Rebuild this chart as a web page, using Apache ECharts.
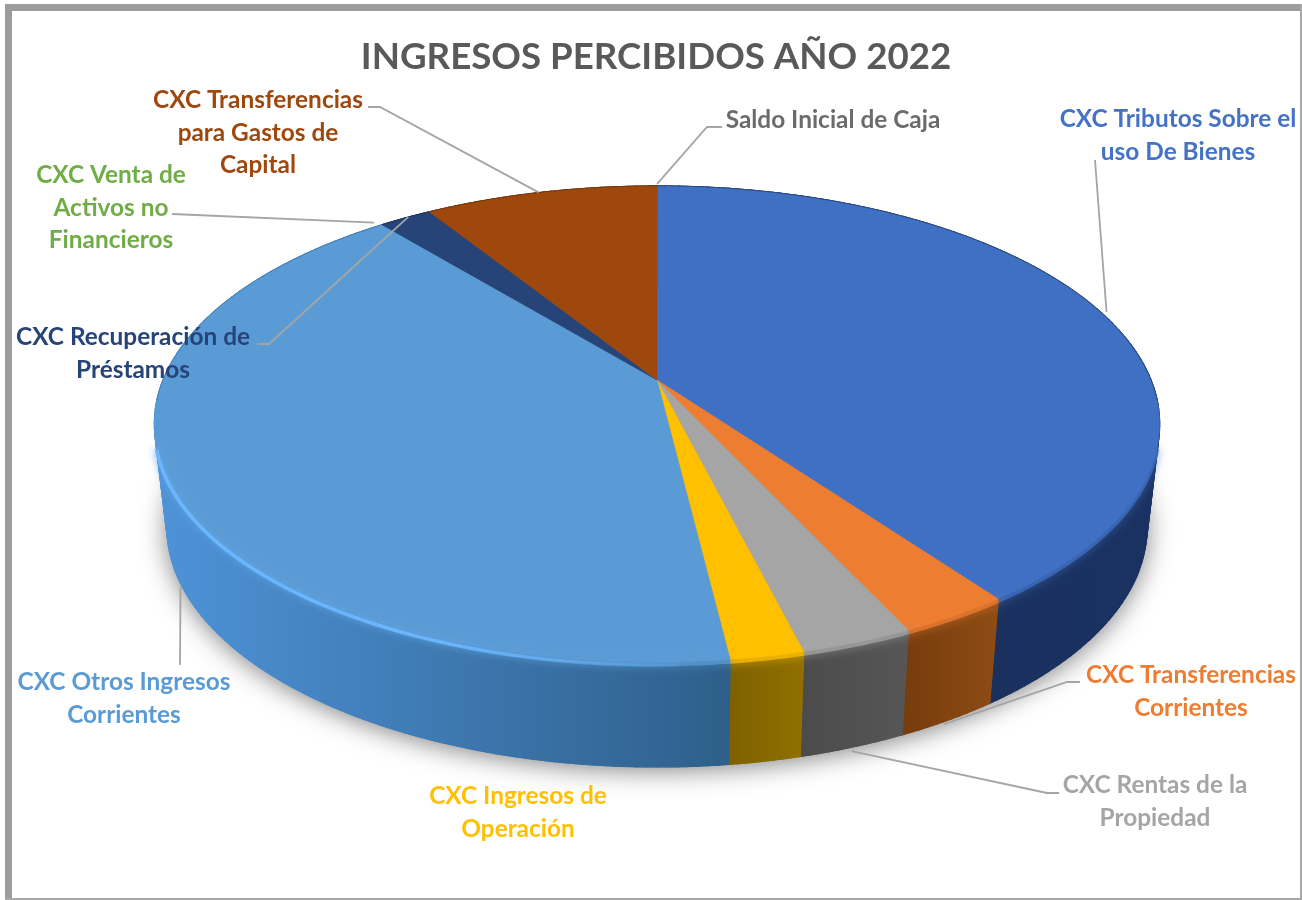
<!DOCTYPE html>
<html><head><meta charset="utf-8">
<style>html,body{margin:0;padding:0;background:#fff}#c{width:1302px;height:900px}</style>
<script src="https://cdn.jsdelivr.net/npm/echarts@6/dist/echarts.min.js"></script>
</head><body><div id="c"></div>
<script>
// ---- data (estimated shares, %) clockwise from 12 o'clock
const categories = ['Saldo Inicial de Caja','CXC Tributos Sobre el uso De Bienes','CXC Transferencias Corrientes','CXC Rentas de la Propiedad','CXC Ingresos de Operación','CXC Otros Ingresos Corrientes','CXC Venta de Activos no Financieros','CXC Recuperación de Préstamos','CXC Transferencias para Gastos de Capital'];
const values = [0.01, 40.0, 3.03, 3.04, 1.99, 40.95, 0.01, 2.02, 8.95];
const chartTitle = 'INGRESOS PERCIBIDOS AÑO 2022';

// ---- styles
const topColors  = ['#636363','#4070C4','#ED7D31','#A5A5A5','#FFC000','#5B9BD5','#70AD47','#264478','#9E480E'];
const wallStart  = ['#3a3a3a','#1A3262','#8E4C14','#565656','#917000','#4E93D8','#3d6b28','#16294a','#5c2a08'];
const wallEnd    = ['#3a3a3a','#1A2F58','#763C0C','#4B4B4B','#7E6000','#2E5F8A','#3d6b28','#16294a','#5c2a08'];
const labelLayout = [
  {lines:['Saldo Inicial de Caja'], x:833, y:120.5, color:'#6B6B6B', rim:'top', d:[0,-2], via:[[722,127],[707,127]]},
  {lines:['CXC Tributos Sobre el','uso De Bienes'], x:1178, y:119.5, color:'#4472C4', rim:'top', d:[5,-1], via:[[1095,160]]},
  {lines:['CXC Transferencias','Corrientes'], x:1191, y:675.5, color:'#ED7D31', rim:'bottom', d:[-4,4], via:[[1080,682],[1067,682]]},
  {lines:['CXC Rentas de la','Propiedad'], x:1155, y:785.5, color:'#A5A5A5', rim:'bottom', d:[-1,4], via:[[1059,793],[1047,793]]},
  {lines:['CXC Ingresos de','Operación'], x:518, y:796.5, color:'#FFC000'},
  {lines:['CXC Otros Ingresos','Corrientes'], x:124, y:682.5, color:'#5B9BD5', rim:'bottom', d:[1,5], via:[[180,665]]},
  {lines:['CXC Venta de','Activos no','Financieros'], x:111, y:175.5, color:'#70AD47', rim:'top', d:[-8,-2], via:[[172,214]]},
  {lines:['CXC Recuperación de','Préstamos'], x:133, y:337.5, color:'#264478', rim:'top', d:[3,-1], via:[[257,344],[269,344]]},
  {lines:['CXC Transferencias','para Gastos de','Capital'], x:258, y:100.5, color:'#9E480E', rim:'top', d:[-2,0], via:[[368,107],[380,107]]}
];

// ---- perspective model of the tilted disc
const K = 0.185;
const TOP = {x:657, y:380, a:230, b:494};
const BOT = {x:657, y:482.6, a:231.8, b:481.7};
function project(disc, deg){
  const t = deg*Math.PI/180, X = Math.sin(t), Y = -Math.cos(t), s = 1/(1-K*Y);
  return [disc.x + disc.b*X*s, disc.y + disc.a*Y*s];
}
function arc(disc, a0, a1){
  const pts = [], n = Math.max(1, Math.ceil(Math.abs(a1-a0)));
  for(let i=0;i<=n;i++) pts.push(project(disc, a0+(a1-a0)*i/n));
  return pts;
}
const total = values.reduce((a,b)=>a+b,0);
const spans = []; { let acc=0; for(const v of values){ const a0=acc/total*360; acc+=v; spans.push([a0,acc/total*360]); } }
const FRONT0 = 101, FRONT1 = 259;

const chart = echarts.init(document.getElementById('c'), null, {renderer:'canvas'});
const font = 'bold 24.4px Lato';
const idx = categories.map((c,i)=>[c,values[i]]);

const option = {
  animation:false,
  backgroundColor:'#ffffff',
  title:{text:chartTitle,left:651,top:34,textAlign:'center',textStyle:{fontFamily:'Lato',fontWeight:'bold',fontSize:36.7,color:'#595959'}},
  graphic:[
    {type:'rect',shape:{x:5,y:4,width:1297,height:7},style:{fill:'#9C9C9C'},z:-1},
    {type:'rect',shape:{x:5,y:4,width:7,height:896},style:{fill:'#9C9C9C'},z:-1},
    {type:'rect',shape:{x:1300,y:4,width:2,height:896},style:{fill:'#A8A8A8'},z:-1},
    {type:'rect',shape:{x:5,y:898,width:1297,height:2},style:{fill:'#A8A8A8'},z:-1}
  ],
  series:[
    // soft ground shadow
    {type:'custom',coordinateSystem:'none',z:1,silent:true,data:[[1]],
     renderItem(){
       return {type:'polygon',shape:{points:arc(BOT,0,360)},
         style:{fill:'#888',shadowColor:'rgba(0,0,0,0.5)',shadowBlur:26,shadowOffsetX:0,shadowOffsetY:3}};
     }},
    // side walls: a band plus narrow facets so the silhouette stays convex
    {type:'custom',coordinateSystem:'none',z:2,silent:true,data:idx,
     renderItem(p){
       const i=p.dataIndex,[a0,a1]=spans[i],kids=[];
       if(a1-a0<0.2) return {type:'group',children:[]};
       const mid=(a0+a1)/2,right=mid<180;
       const T=arc(TOP,a0,a1),B=arc(BOT,a0,a1);
       const xs=T.concat(B).map(q=>q[0]);
       const xA=Math.min(...xs),xB=Math.max(...xs);
       const grad=new echarts.graphic.LinearGradient(right?xB:xA,0,right?xA:xB,0,[{offset:0,color:wallStart[i]},{offset:1,color:wallEnd[i]}],true);
       kids.push({type:'polygon',shape:{points:T.concat(B.slice().reverse())},style:{fill:grad,stroke:grad,lineWidth:0.6}});
       for(let n=0;n<T.length-1;n++){
         kids.push({type:'polygon',shape:{points:[T[n],T[n+1],B[n+1],B[n]]},style:{fill:grad,stroke:grad,lineWidth:1.2}});
       }
       return {type:'group',children:kids};
     }},
    // top faces with soft rim
    {type:'custom',coordinateSystem:'none',z:3,silent:true,data:idx,
     renderItem(p){
       const i=p.dataIndex,[a0,a1]=spans[i],kids=[];
       if(a1-a0<0.2) return {type:'group',children:[]};
       kids.push({type:'polygon',shape:{points:[[TOP.x,TOP.y]].concat(arc(TOP,a0,a1))},
         style:{fill:topColors[i],stroke:topColors[i],lineWidth:0.6}});
       const f0=Math.max(a0,FRONT0+5),f1=Math.min(a1,FRONT1-5);
       if(f1>f0){
         kids.push({type:'polyline',shape:{points:arc(TOP,f0,f1).map(q=>[q[0],q[1]+2])},
           style:{fill:'none',stroke:topColors[i],lineWidth:4,opacity:0.75,shadowColor:topColors[i],shadowBlur:8}});
       }
       // thin dark edge along the back rim
       const dark=[[a0,Math.min(a1,FRONT0-6)],[Math.max(a0,FRONT1+6),a1]];
       for(const [b0,b1] of dark){ if(b1>b0) kids.push({type:'polyline',shape:{points:arc(TOP,b0,b1)},
           style:{fill:'none',stroke:wallEnd[i],lineWidth:1,opacity:0.4}}); }
       return {type:'group',children:kids};
     }},
    // bright bevel on the large light-blue slice
    {type:'custom',coordinateSystem:'none',z:4,silent:true,data:[[5]],
     renderItem(p,api){
       const i=api.value(0),[a0,a1]=spans[i];
       const b0=Math.max(a0,178),b1=Math.min(a1,254);
       const grad=new echarts.graphic.LinearGradient(160,0,720,0,[
         {offset:0,color:'rgba(108,184,255,0.95)'},{offset:0.5,color:'rgba(108,184,255,0.9)'},{offset:1,color:'rgba(108,184,255,0)'}],true);
       return {type:'polyline',shape:{points:arc(TOP,b0,b1).map(q=>[q[0],q[1]+3])},
         style:{fill:'none',stroke:grad,lineWidth:3.5,shadowColor:'rgba(108,184,255,0.55)',shadowBlur:6}};
     }},
    // leaders and labels
    {type:'custom',coordinateSystem:'none',z:5,silent:true,data:idx,
     renderItem(p){
       const i=p.dataIndex,L=labelLayout[i],kids=[];
       if(L.rim){
         const mid=(spans[i][0]+spans[i][1])/2;
         const e=project(L.rim==='top'?TOP:BOT,mid);
         kids.push({type:'polyline',shape:{points:L.via.concat([[e[0]+L.d[0],e[1]+L.d[1]]])},
           style:{fill:'none',stroke:'#A5A5A5',lineWidth:1.8}});
       }
       L.lines.forEach((t,n)=>kids.push({type:'text',style:{text:t,x:L.x,y:L.y+n*32.5,align:'center',verticalAlign:'middle',font:font,fill:L.color}}));
       return {type:'group',children:kids};
     }}
  ]
};
chart.setOption(option);
</script></body></html>
